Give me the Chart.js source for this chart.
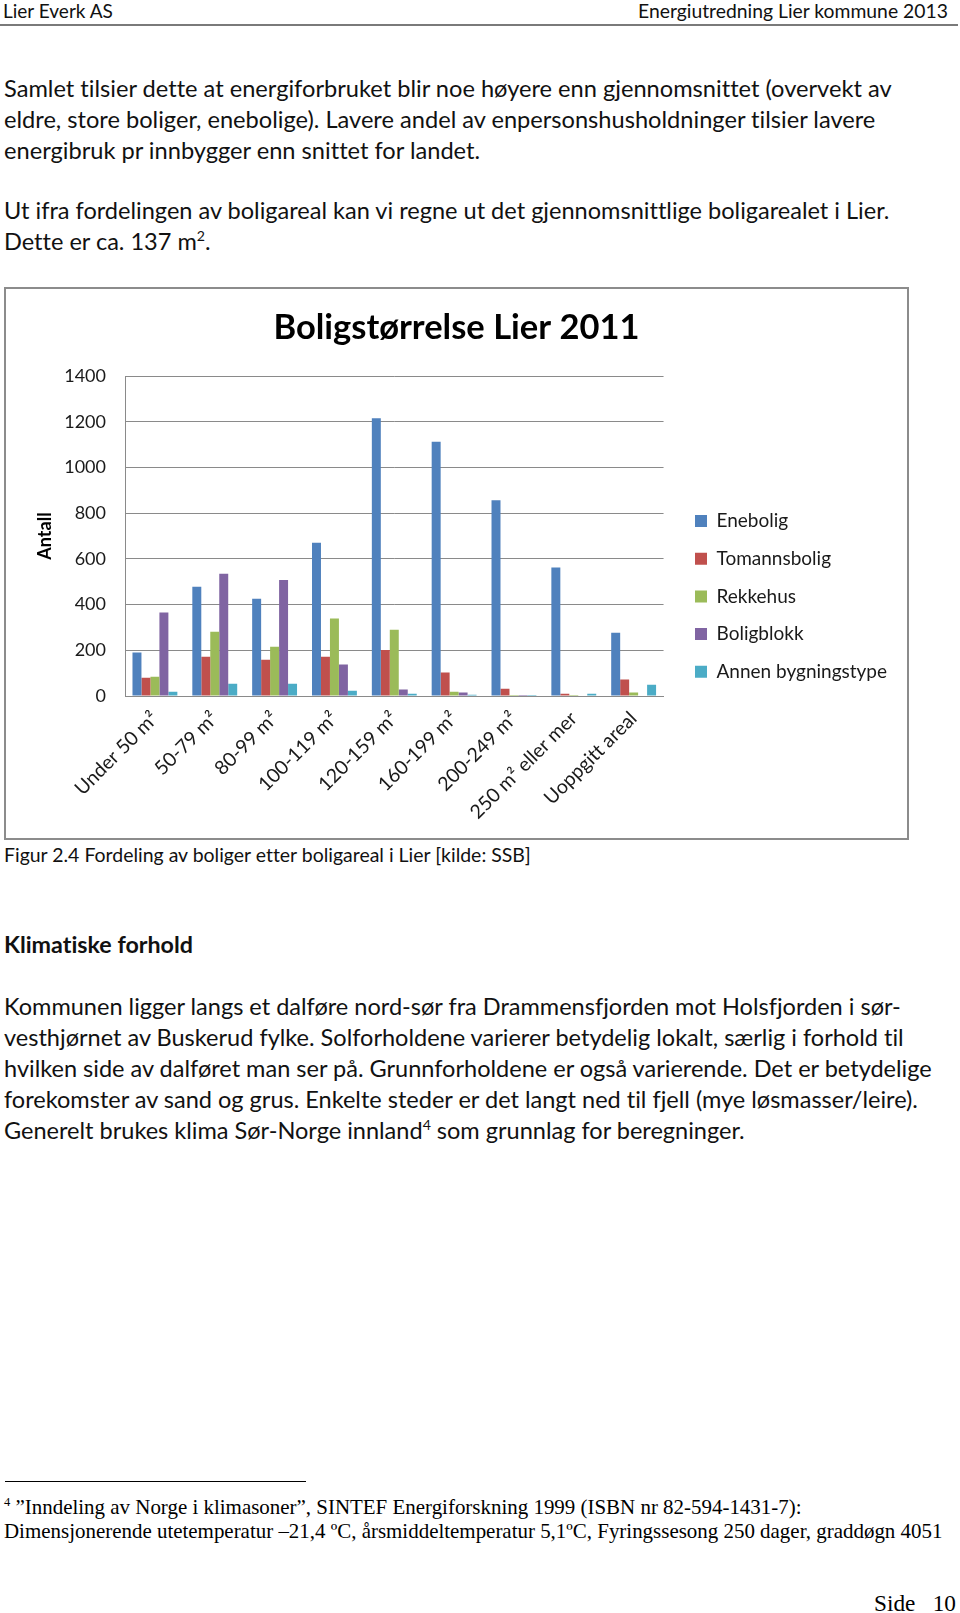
<!DOCTYPE html>
<html>
<head>
<meta charset="utf-8">
<script src="https://cdn.jsdelivr.net/npm/chart.js@4.4.1/dist/chart.umd.min.js"></script>
<style>
  html, body { margin: 0; padding: 0; background: #fff; }
  body { position: relative; width: 960px; height: 1613px; overflow: hidden; font-family: Lato, "Open Sans", sans-serif; color: #111; font-variant-ligatures: none; }
  .blk { position: absolute; left: 4px; line-height: 31px; }
  .ln { width: max-content; white-space: nowrap; height: 31px; }
  sup { font-size: 0.6em; line-height: 0; vertical-align: 0.65em; }
  .hdr { position: absolute; top: 0; font-size: 19px; line-height: 22px; white-space: nowrap; }
  .rule { position: absolute; left: 0; top: 24px; width: 958px; height: 2px; background: #7a7a7a; }
  .serif { font-family: "Liberation Serif", "DejaVu Serif", serif; color: #000; }
  #box { position: absolute; left: 4px; top: 287px; width: 905px; height: 553px; box-sizing: border-box; border: 2px solid #8c8c8c; }
  #box canvas { display: block; }
  .fnrule { position: absolute; left: 5px; top: 1481px; width: 301px; height: 1px; background: #000; }
</style>
</head>
<body>
<div class="hdr" style="left:3px" data-w="110"><span class="ln" style="height:22px;display:block">Lier Everk AS</span></div>
<div class="hdr" id="hdrR" data-w="310" data-right="948"><span class="ln" style="height:22px;display:block">Energiutredning Lier kommune 2013</span></div>
<div class="rule"></div>

<div class="blk" style="top:73px" data-w="888">
  <div class="ln">Samlet tilsier dette at energiforbruket blir noe høyere enn gjennomsnittet (overvekt av</div>
  <div class="ln">eldre, store boliger, enebolige). Lavere andel av enpersonshusholdninger tilsier lavere</div>
  <div class="ln">energibruk pr innbygger enn snittet for landet.</div>
</div>
<div class="blk" style="top:195px" data-w="886">
  <div class="ln">Ut ifra fordelingen av boligareal kan vi regne ut det gjennomsnittlige boligarealet i Lier.</div>
  <div class="ln">Dette er ca. 137 m<sup>2</sup>.</div>
</div>

<div id="box"><canvas id="chart" width="901" height="549"></canvas></div>

<div class="blk" style="top:839px" data-w="527">
  <div class="ln">Figur 2.4 Fordeling av boliger etter boligareal i Lier [kilde: SSB]</div>
</div>

<div class="blk" style="top:929px;font-weight:bold" data-w="189">
  <div class="ln">Klimatiske forhold</div>
</div>

<div class="blk" style="top:991px" data-w="897">
  <div class="ln">Kommunen ligger langs et dalføre nord-sør fra Drammensfjorden mot Holsfjorden i sør-</div>
  <div class="ln">vesthjørnet av Buskerud fylke. Solforholdene varierer betydelig lokalt, særlig i forhold til</div>
  <div class="ln">hvilken side av dalføret man ser på. Grunnforholdene er også varierende. Det er betydelige</div>
  <div class="ln">forekomster av sand og grus. Enkelte steder er det langt ned til fjell (mye løsmasser/leire).</div>
  <div class="ln">Generelt brukes klima Sør-Norge innland<sup>4</sup> som grunnlag for beregninger.</div>
</div>

<div class="fnrule"></div>
<div class="blk serif" style="top:1495px;line-height:24px" data-w="939" data-probe="1">
  <div class="ln" style="height:24px"><sup>4</sup> ”Inndeling av Norge i klimasoner”, SINTEF Energiforskning 1999 (ISBN nr 82-594-1431-7):</div>
  <div class="ln" style="height:24px">Dimensjonerende utetemperatur –21,4 ºC, årsmiddeltemperatur 5,1ºC, Fyringssesong 250 dager, graddøgn 4051</div>
</div>
<div class="blk serif" id="side" style="top:1590px;line-height:26px" data-w="82" data-right="956">
  <div class="ln" style="height:26px">Side&nbsp;&nbsp; 10</div>
</div>

<script>
// Boligstørrelse Lier 2011 (antall boliger etter boligareal og bygningstype)
const categories = ['Under 50 m²', '50-79 m²', '80-99 m²', '100-119 m²', '120-159 m²', '160-199 m²', '200-249 m²', '250 m² eller mer', 'Uoppgitt areal'];
const enebolig = [190, 478, 426, 671, 1215, 1112, 856, 562, 277];
const tomannsbolig = [80, 172, 159, 172, 201, 103, 32, 10, 72];
const rekkehus = [84, 281, 216, 339, 290, 19, 4, 4, 15];
const boligblokk = [365, 535, 508, 138, 28, 15, 4, 2, 0];
const annen = [19, 54, 54, 23, 10, 6, 4, 10, 49];
const seriesNames = ['Enebolig', 'Tomannsbolig', 'Rekkehus', 'Boligblokk', 'Annen bygningstype'];
const yMax = 1400;
const yStep = 200;

const colors = ['#4f81bd', '#c0504d', '#9bbb59', '#8064a2', '#4bacc6'];

// fit the page text to the widths of the original lines
document.querySelectorAll('[data-w]').forEach((el) => {
    const line = el.querySelectorAll('.ln')[el.dataset.probe ? 1 : 0];
    const fs = 20;
    el.style.fontSize = fs + 'px';
    const w = line.getBoundingClientRect().width;
    el.style.fontSize = (fs * Number(el.dataset.w) / w).toFixed(2) + 'px';
    if (el.dataset.right) {
        el.style.left = (Number(el.dataset.right) - Number(el.dataset.w)) + 'px';
    }
});

Chart.defaults.font.family = 'Lato, "Open Sans", sans-serif';
Chart.defaults.color = '#1a1a1a';

const gridColor = '#8a8a8a';

// put the legend where the original has it, title centred on the whole box
const placeBlocks = {
    id: 'placeBlocks',
    afterLayout(chart) {
        const lg = chart.legend;
        const pad = lg.options.labels.padding;
        const left = 689 - pad;
        const top = 232 - 9.5 - pad;
        lg.left = left;
        lg.right = left + lg.width;
        lg.top = top;
        lg.bottom = top + lg.height;

        const t = chart.titleBlock;
        t.left = 0;
        t.right = chart.width;
        t.width = chart.width;
    },
};

const series = [enebolig, tomannsbolig, rekkehus, boligblokk, annen];

const chart = new Chart(document.getElementById('chart'), {
    type: 'bar',
    data: {
        labels: categories,
        datasets: series.map((values, i) => ({
            label: seriesNames[i],
            data: values,
            backgroundColor: colors[i],
            borderWidth: 0,
            categoryPercentage: 0.75,
            barPercentage: 1,
        })),
    },
    options: {
        responsive: false,
        animation: false,
        layout: { padding: { left: 0, top: 0, right: 0, bottom: 0 } },
        plugins: {
            title: {
                display: true,
                text: 'Boligstørrelse Lier 2011',
                color: '#000',
                font: { size: 34.5, weight: 'bold' },
                padding: { top: 18, bottom: 27.6 },
            },
            legend: {
                position: 'right',
                align: 'start',
                labels: {
                    boxWidth: 12,
                    boxHeight: 12,
                    padding: 18.7,
                    color: '#1a1a1a',
                    font: { size: 19 },
                },
            },
            tooltip: { enabled: false },
        },
        scales: {
            x: {
                grid: { display: false, drawTicks: false },
                border: { display: true, color: gridColor },
                ticks: {
                    minRotation: 45,
                    maxRotation: 45,
                    autoSkip: false,
                    padding: 11,
                    font: { size: 19.5 },
                },
                afterFit(scale) { scale.height = 142; },
            },
            y: {
                min: 0,
                max: yMax,
                grid: { color: gridColor, drawTicks: false },
                border: { display: true, color: gridColor },
                ticks: {
                    stepSize: yStep,
                    padding: 19,
                    font: { size: 18 },
                    format: { useGrouping: false },
                },
                title: {
                    display: true,
                    text: 'Antall',
                    color: '#000',
                    font: { size: 18, weight: 'bold' },
                    padding: { top: 28, bottom: 0 },
                },
                afterFit(scale) { scale.width = 119; },
            },
        },
    },
    plugins: [placeBlocks],
});

// keep the plot area right edge where the original has it
chart.options.layout.padding.right = Math.max(0, 245 - chart.legend.width);
chart.update('none');
</script>
</body>
</html>
